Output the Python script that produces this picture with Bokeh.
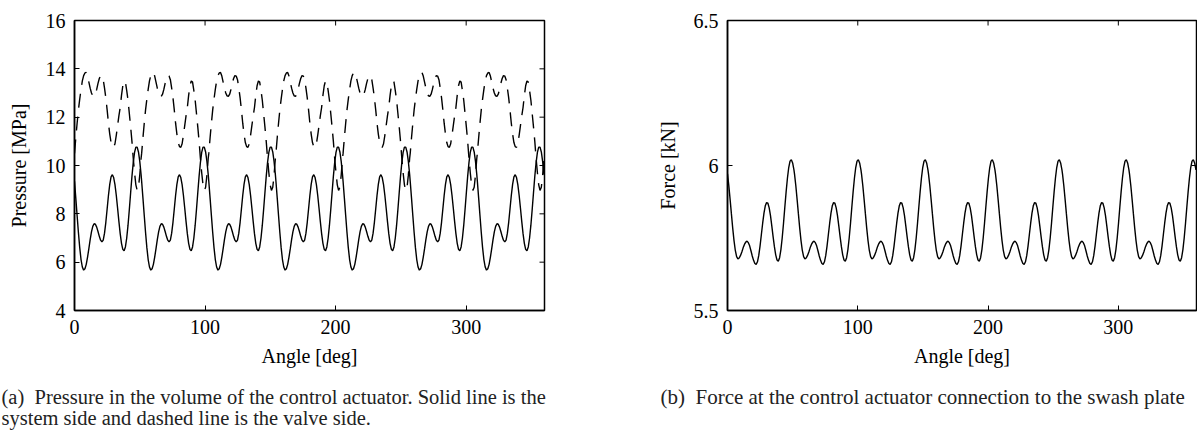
import numpy as np
from bokeh.plotting import figure
from bokeh.models import FixedTicker, Range1d
from bokeh.layouts import row, column
from bokeh.core.properties import value
from bokeh.embed import file_html
from bokeh.resources import INLINE

FONT = "Liberation Serif"

# ---- data (one piston period, repeated for 7 pistons) ----
n_pistons = 7
period_angle = list(range(52))  # deg within one period (period = 360/7 deg)

pressure_system = [9.35, 8.65, 7.93, 7.23, 6.60, 6.11, 5.80, 5.67, 5.73, 5.91,
                   6.21, 6.56, 6.93, 7.25, 7.48, 7.59, 7.57, 7.45, 7.27, 7.07,
                   6.91, 6.84, 6.91, 7.20, 7.65, 8.20, 8.76, 9.22, 9.53, 9.62,
                   9.50, 9.21, 8.77, 8.24, 7.69, 7.18, 6.78, 6.53, 6.47, 6.63,
                   7.00, 7.53, 8.18, 8.87, 9.55, 10.12, 10.54, 10.76, 10.76, 10.56,
                   10.17, 9.62]

pressure_valve = [10.5, 11.15, 11.75, 12.3, 12.75, 13.15, 13.5, 13.72, 13.83, 13.85,
                  13.7, 13.45, 13.2, 13.0, 12.88, 12.86, 12.95, 13.15, 13.4, 13.6,
                  13.72, 13.7, 13.55, 13.2, 12.8, 12.3, 11.75, 11.3, 10.95, 10.78,
                  10.75, 10.9, 11.25, 11.65, 12.05, 12.4, 12.9, 13.3, 13.5, 13.45,
                  13.1, 12.7, 12.15, 11.6, 11.0, 10.3, 9.7, 9.2, 8.97, 9.1,
                  9.6, 10.3]

force = [5.971, 5.931, 5.883, 5.833, 5.784, 5.741, 5.707, 5.686, 5.678, 5.681,
         5.690, 5.702, 5.716, 5.728, 5.736, 5.739, 5.734, 5.723, 5.706, 5.688,
         5.673, 5.662, 5.659, 5.668, 5.690, 5.723, 5.762, 5.801, 5.836, 5.861,
         5.872, 5.870, 5.854, 5.827, 5.792, 5.755, 5.720, 5.692, 5.674, 5.670,
         5.682, 5.710, 5.751, 5.801, 5.856, 5.909, 5.956, 5.993, 6.015, 6.020,
         6.009, 5.985]

x_range = (0, 360)
p_range = (4, 16)
f_range = (5.5, 6.5)
x_ticks = [0, 100, 200, 300]
p_ticks = [4, 6, 8, 10, 12, 14, 16]
f_ticks = [5.5, 6, 6.5]
f_tick_labels = ["5.5", "6", "6.5"]

caption_a = ["(a)\u00a0 Pressure in the volume of the control actuator. Solid line is the",
             "system side and dashed line is the valve side."]
caption_b = "(b)\u00a0 Force at the control actuator connection to the swash plate"

# ---- build full revolution from repeated periods ----
period = 360.0 / n_pistons
angles = np.concatenate([np.array(period_angle, dtype=float) + k * period for k in range(n_pistons)])
sys_full = np.tile(pressure_system, n_pistons)
valve_full = np.tile(pressure_valve, n_pistons)
force_full = np.tile(force, n_pistons)

TICK_LEN = 5


def style_main_axis(ax, ticks, label, overrides=None, standoff=8, label_standoff=10):
    ax.ticker = FixedTicker(ticks=ticks)
    ax.minor_tick_line_color = None
    ax.major_tick_in = TICK_LEN
    ax.major_tick_out = 0
    ax.major_tick_line_color = "black"
    ax.major_tick_line_width = 1
    ax.axis_line_color = "black"
    ax.axis_line_width = 1.5
    ax.major_label_text_font = FONT
    ax.major_label_text_font_size = "20px"
    ax.major_label_text_color = "black"
    ax.major_label_standoff = standoff
    ax.axis_label = label
    ax.axis_label_text_font = FONT
    ax.axis_label_text_font_size = "20px"
    ax.axis_label_text_font_style = "normal"
    ax.axis_label_text_color = "black"
    ax.axis_label_standoff = label_standoff
    if overrides:
        ax.major_label_overrides = overrides


def mirror_ticks(p, xr, yr, xt, yt):
    # inward tick marks on the top and right edges of the box
    p.ray(x=xt, y=[yr[1]] * len(xt), length=TICK_LEN, length_units="screen",
          angle=-np.pi / 2, line_color="black", line_width=1)
    p.ray(x=[xr[1]] * len(yt), y=yt, length=TICK_LEN, length_units="screen",
          angle=np.pi, line_color="black", line_width=1)


def make_fig(width, yr, min_left, min_right):
    p = figure(width=width, height=380, x_range=Range1d(*x_range), y_range=Range1d(*yr),
               output_backend="svg", toolbar_location=None,
               min_border_left=min_left, min_border_right=min_right,
               min_border_top=20, min_border_bottom=70,
               background_fill_color="white", border_fill_color="white",
               outline_line_color="black", outline_line_width=1.5)
    p.xgrid.grid_line_color = None
    p.ygrid.grid_line_color = None
    return p


# ---- (a) pressure ----
pa = make_fig(608, p_range, 74, 64)
style_main_axis(pa.xaxis[0], x_ticks, "Angle [deg]", standoff=9, label_standoff=8)
style_main_axis(pa.yaxis[0], p_ticks, "Pressure [MPa]", standoff=9, label_standoff=13)
mirror_ticks(pa, x_range, p_range, x_ticks, p_ticks)
pa.line(angles, sys_full, line_color="black", line_width=1.4)
pa.line(angles, valve_full, line_color="black", line_width=1.4, line_dash="14 9")

# ---- (b) force ----
pb = make_fig(589, f_range, 119, 1)
style_main_axis(pb.xaxis[0], x_ticks, "Angle [deg]", standoff=9, label_standoff=8)
style_main_axis(pb.yaxis[0], f_ticks, "Force [kN]",
                overrides={t: s for t, s in zip(f_ticks, f_tick_labels)},
                standoff=9, label_standoff=12)
mirror_ticks(pb, x_range, f_range, x_ticks, f_ticks)
pb.line(angles, force_full, line_color="black", line_width=1.4)

# ---- captions strip (pixel coordinates) ----
cap_w, cap_h = 1197, 51
cap = figure(width=cap_w, height=cap_h, x_range=Range1d(0, cap_w), y_range=Range1d(cap_h, 0),
             output_backend="svg", toolbar_location=None, min_border=0,
             x_axis_type=None, y_axis_type=None, outline_line_color=None,
             background_fill_color="white", border_fill_color="white")
cap.xgrid.grid_line_color = None
cap.ygrid.grid_line_color = None
cap.text(x=[1, 1], y=[16, 37], text=caption_a,
         text_font=value(FONT), text_font_size="20.5px", text_color="#222222",
         text_baseline="middle", text_align="left")
cap.text(x=[660], y=[16], text=[caption_b],
         text_font=value(FONT), text_font_size="21px", text_color="#222222",
         text_baseline="middle", text_align="left")

layout = column(row(pa, pb), cap)

with open("out.html", "w") as f:
    f.write(file_html(layout, INLINE))
